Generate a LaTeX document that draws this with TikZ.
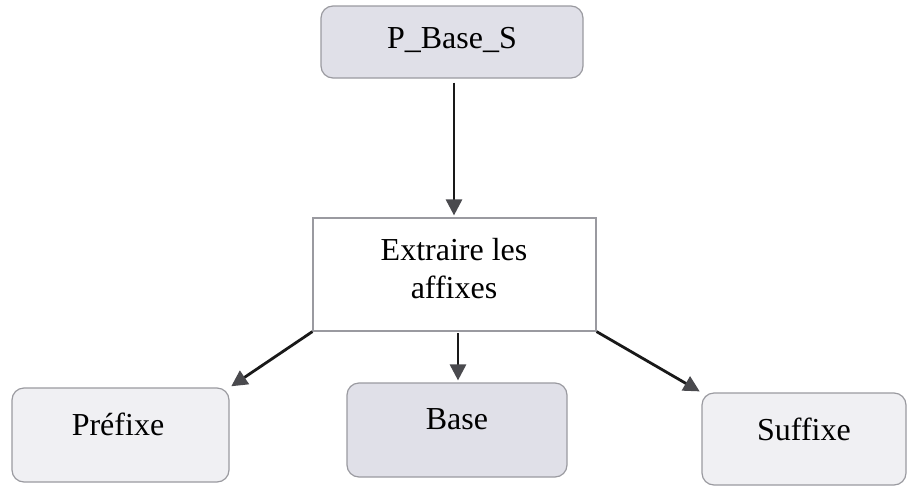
\documentclass[tikz,border=0pt]{standalone}
\usepackage{fontspec}
\setmainfont{Liberation Serif}
\usetikzlibrary{arrows.meta}
\definecolor{boxdark}{HTML}{E0E0E8}
\definecolor{boxlight}{HTML}{F0F0F3}
\definecolor{edgegray}{HTML}{9A9AA0}
\definecolor{tipgray}{HTML}{4A4A4E}
\tikzset{
  x=1pt, y=-1pt,
  roundbox/.style={draw=edgegray, line width=1.2pt, rounded corners=12pt, inner sep=0pt},
  plainbox/.style={draw=edgegray, line width=1.2pt, fill=white, inner sep=0pt},
  lbl/.style={font=\fontsize{32}{40}\selectfont, anchor=base, inner sep=0pt, align=center},
  conn/.style={draw=black!90, line width=2.8pt, -{Triangle[length=16pt, width=16pt, fill=tipgray, color=tipgray]}, shorten >=2pt}
}
\begin{document}
\begin{tikzpicture}
\useasboundingbox (0,0) rectangle (910,485);
% boxes
\node[roundbox, fill=boxdark, minimum width=262pt, minimum height=72pt] (top) at (452,42) {};
\node[plainbox, minimum width=283pt, minimum height=113pt] (mid) at (454.5,274.5) {};
\node[roundbox, fill=boxlight, minimum width=217pt, minimum height=94pt] (pre) at (120.5,435) {};
\node[roundbox, fill=boxdark, minimum width=220pt, minimum height=94pt] (bas) at (457,430) {};
\node[roundbox, fill=boxlight, minimum width=204pt, minimum height=92pt] (suf) at (804,439) {};
% labels
\node[lbl] (ttop) at (452,48) {P\_Base\_S};
\node[lbl] (tmid1) at (454,260) {Extraire les};
\node[lbl] (tmid2) at (454,298) {affixes};
\node[lbl] (tpre) at (118,435) {Préfixe};
\node[lbl] (tbas) at (457,429) {Base};
\node[lbl] (tsuf) at (804,440) {Suffixe};
% connectors
\coordinate (midc) at (458,333);
\draw[conn] ([yshift=-4pt]top.south -| 454,0) -- (mid.north -| 454,0);
\draw[conn] (mid.south west) -- (pre.north east);
\draw[conn] (midc) -- (bas.north -| midc);
\draw[conn] (mid.south east) -- (suf.north west);
\end{tikzpicture}
\end{document}
